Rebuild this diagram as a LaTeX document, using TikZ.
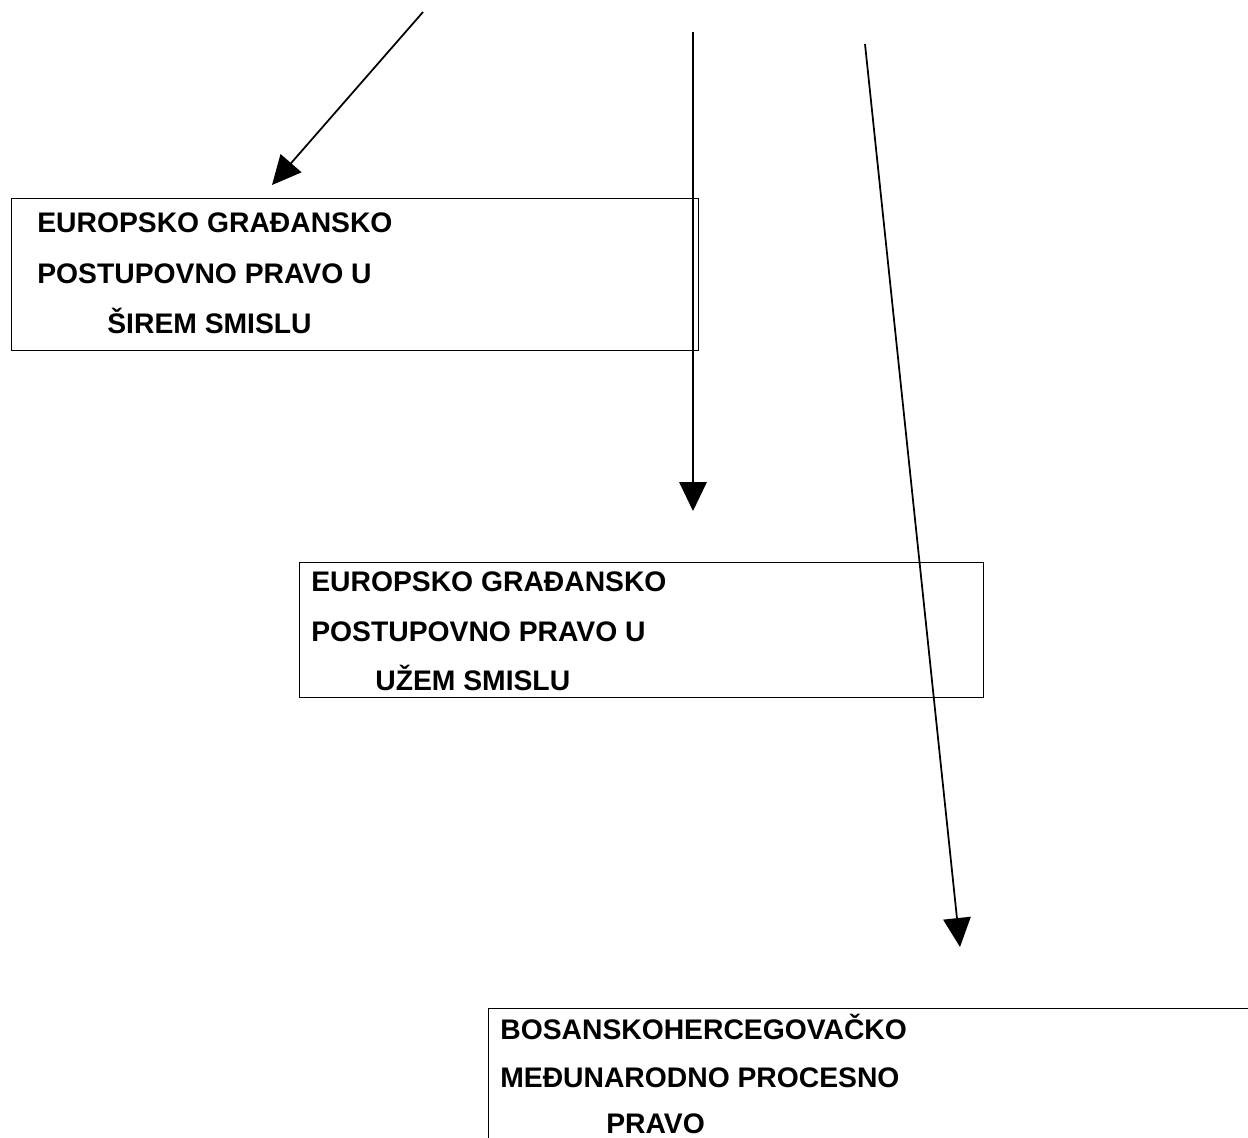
\documentclass[tikz,border=0pt]{standalone}
\usepackage{fontspec}
\setmainfont{Liberation Sans}
\usetikzlibrary{arrows.meta}

\tikzset{
  okvir/.style={draw, line width=0.8pt, anchor=north west, inner sep=0pt},
  redak/.style={anchor=base west, inner sep=0pt, font=\fontsize{16.1}{18}\selectfont\bfseries},
  strelica/.style={line width=1pt, -{Triangle[length=0.58cm,width=0.55cm]}}
}

\begin{document}
\begin{tikzpicture}[x=0.02cm,y=-0.02cm]
\useasboundingbox (0,0) rectangle (1248,1137);
\clip (0,0) rectangle (1248,1137);
%% boxes
\node[okvir, minimum width=13.74cm, minimum height=3.04cm] (sirem) at (11,198) {};
\node[okvir, minimum width=13.68cm, minimum height=2.7cm] (uzem) at (299,562) {};
\node[okvir, minimum width=15.44cm, minimum height=3.04cm] (bih) at (488,1008) {};
%% box texts
\node[redak] (s1) at (37,232) {EUROPSKO GRAĐANSKO};
\node[redak] (s2) at (37,283) {POSTUPOVNO PRAVO U};
\node[redak] (s3) at (107,333) {ŠIREM SMISLU};
\node[redak] (u1) at (311,591) {EUROPSKO GRAĐANSKO};
\node[redak] (u2) at (311,641) {POSTUPOVNO PRAVO U};
\node[redak] (u3) at (375,690) {UŽEM SMISLU};
\node[redak] (b1) at (500,1039) {BOSANSKOHERCEGOVAČKO};
\node[redak] (b2) at (500,1087) {MEĐUNARODNO PROCESNO};
\node[redak] (b3) at (606,1133) {PRAVO};
%% arrow ends
\coordinate (p1) at (423,12);
\coordinate (k1) at (272,185);
\coordinate (p2) at (693,32);
\coordinate (k2) at (693,511);
\coordinate (p3) at (865,44);
\coordinate (k3) at (960,947);
%%% arrows
\draw[strelica] (p1) -- (k1);
\draw[strelica] (p2) -- (k2);
\draw[strelica] (p3) -- (k3);
\end{tikzpicture}
\end{document}
